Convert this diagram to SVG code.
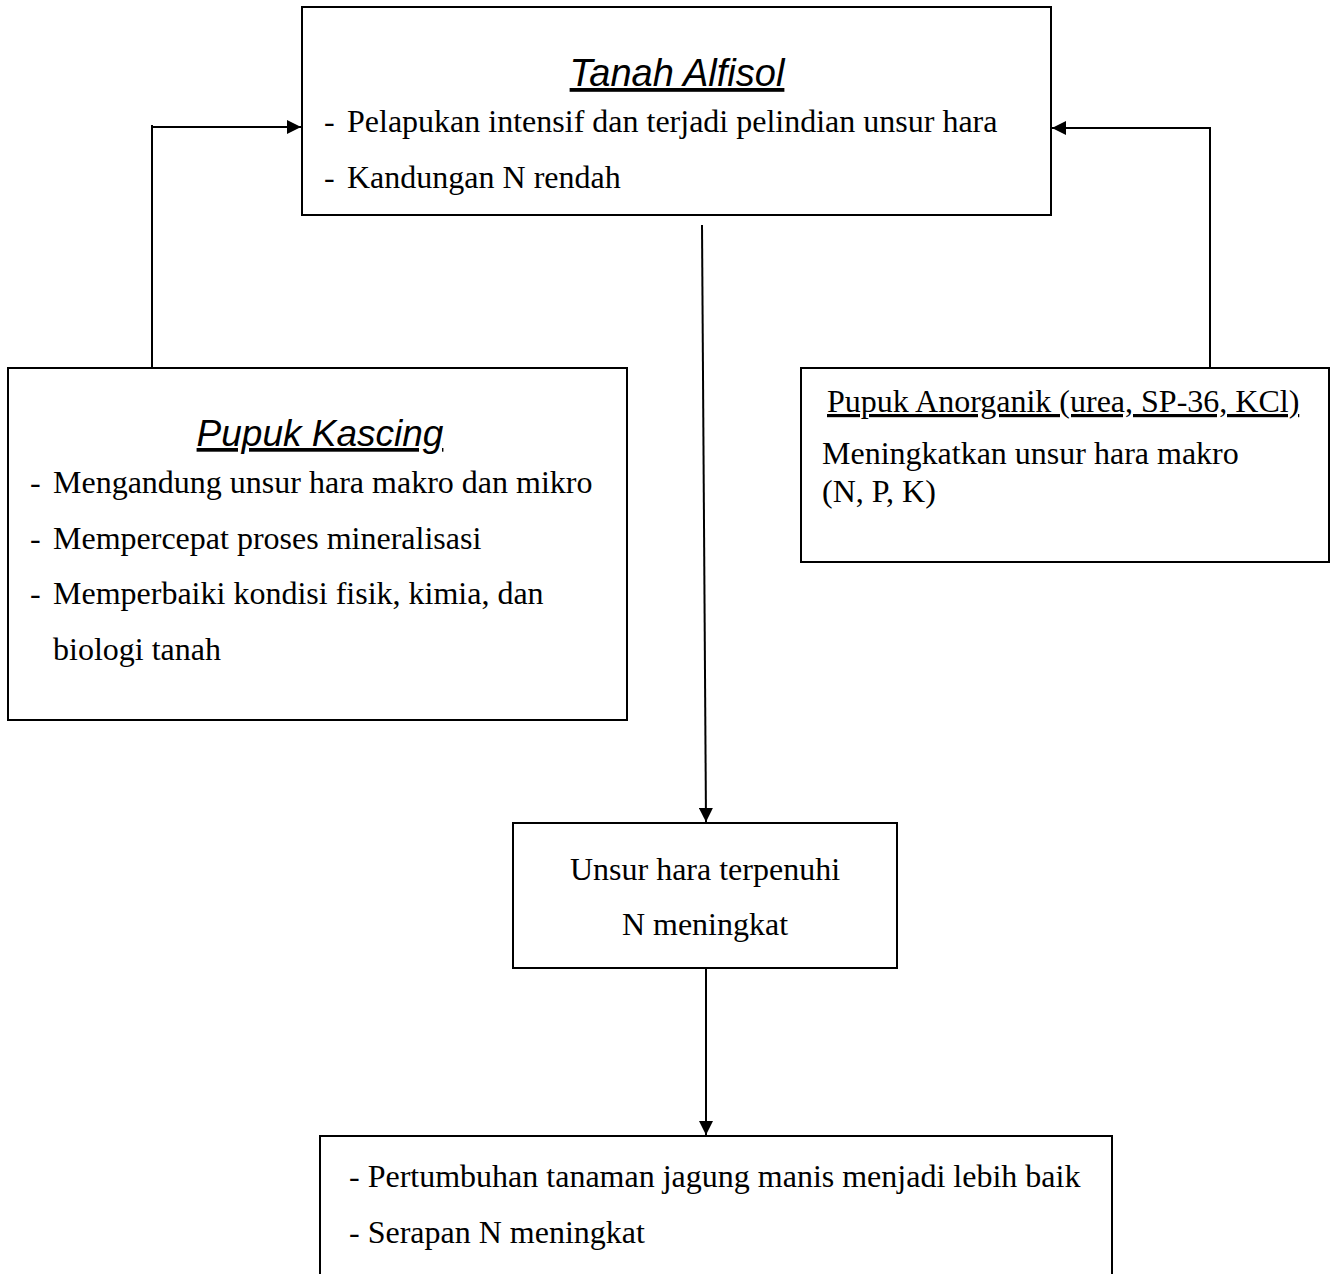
<svg xmlns="http://www.w3.org/2000/svg" width="1336" height="1274" viewBox="0 0 1336 1274">
<style>
.box{fill:#fff;stroke:#000;stroke-width:2}
.t{font-family:"Liberation Serif",serif;font-size:32px;fill:#000}
.h{font-family:"Liberation Sans",sans-serif;font-style:italic;fill:#000}
.c{fill:none;stroke:#000;stroke-width:2}
</style>
<defs>
<marker id="ah" viewBox="0 0 10 10" refX="10" refY="5" markerWidth="14" markerHeight="14" markerUnits="userSpaceOnUse" orient="auto">
<path d="M0,0 L10,5 L0,10 Z" fill="#000"/>
</marker>
</defs>
<rect width="1336" height="1274" fill="#fff"/>
<g id="tanah">
<rect class="box" x="302" y="7" width="749" height="208"/>
<text class="h" x="677" y="86" font-size="38" text-anchor="middle" text-decoration="underline">Tanah Alfisol</text>
<text class="t" x="324" y="132">-</text>
<text class="t" x="347" y="132">Pelapukan intensif dan terjadi pelindian unsur hara</text>
<text class="t" x="324" y="188">-</text>
<text class="t" x="347" y="188">Kandungan N rendah</text>
</g>
<g id="kascing">
<rect class="box" x="8" y="368" width="619" height="352"/>
<text class="h" x="320" y="446" font-size="37" text-anchor="middle" text-decoration="underline">Pupuk Kascing</text>
<text class="t" x="30" y="493">-</text>
<text class="t" x="53" y="493">Mengandung unsur hara makro dan mikro</text>
<text class="t" x="30" y="549">-</text>
<text class="t" x="53" y="549">Mempercepat proses mineralisasi</text>
<text class="t" x="30" y="604">-</text>
<text class="t" x="53" y="604">Memperbaiki kondisi fisik, kimia, dan</text>
<text class="t" x="53" y="660">biologi tanah</text>
</g>
<g id="anorganik">
<rect class="box" x="801" y="368" width="528" height="194"/>
<text class="t" x="827" y="412" text-decoration="underline">Pupuk Anorganik (urea, SP-36, KCl)</text>
<text class="t" x="822" y="464">Meningkatkan unsur hara makro</text>
<text class="t" x="822" y="502">(N, P, K)</text>
</g>
<g id="unsur">
<rect class="box" x="513" y="823" width="384" height="145"/>
<text class="t" x="705" y="880" text-anchor="middle">Unsur hara terpenuhi</text>
<text class="t" x="705" y="935" text-anchor="middle">N meningkat</text>
</g>
<g id="hasil">
<rect class="box" x="320" y="1136" width="792" height="160"/>
<text class="t" x="349" y="1187">- Pertumbuhan tanaman jagung manis menjadi lebih baik</text>
<text class="t" x="349" y="1243">- Serapan N meningkat</text>
</g>
<g id="connectors">
<path class="c" d="M152,368 V125 M152,127 H301" marker-end="url(#ah)"/>
<path class="c" d="M1210,368 V128 H1052" marker-end="url(#ah)"/>
<path class="c" d="M702,225 L706,822" marker-end="url(#ah)"/>
<path class="c" d="M706,968 V1135" marker-end="url(#ah)"/>
</g>
</svg>
